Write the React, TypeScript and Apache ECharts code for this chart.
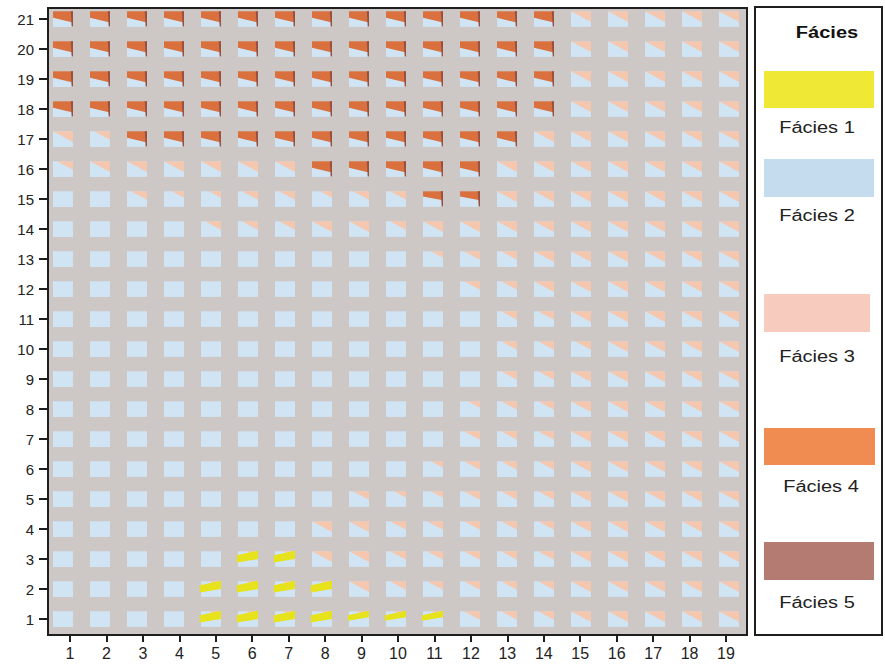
import React, { useEffect, useRef } from "react";
import * as echarts from "echarts";

// Grid of sampled cells: 19 columns x 21 rows
const columnTicks = [1, 2, 3, 4, 5, 6, 7, 8, 9, 10, 11, 12, 13, 14, 15, 16, 17, 18, 19];
const rowTicks = [1, 2, 3, 4, 5, 6, 7, 8, 9, 10, 11, 12, 13, 14, 15, 16, 17, 18, 19, 20, 21];

const faciesNames = ["Fácies 1", "Fácies 2", "Fácies 3", "Fácies 4", "Fácies 5"];

// One string per row (row 21 first), one digit per column (1..19), share in tenths.
const facies1Rows = [
  "0000000000000000000", // 21
  "0000000000000000000", // 20
  "0000000000000000000", // 19
  "0000000000000000000", // 18
  "0000000000000000000", // 17
  "0000000000000000000", // 16
  "0000000000000000000", // 15
  "0000000000000000000", // 14
  "0000000000000000000", // 13
  "0000000000000000000", // 12
  "0000000000000000000", // 11
  "0000000000000000000", // 10
  "0000000000000000000", // 9
  "0000000000000000000", // 8
  "0000000000000000000", // 7
  "0000000000000000000", // 6
  "0000000000000000000", // 5
  "0000000000000000000", // 4
  "0000044000000000000", // 3
  "0000444400000000000", // 2
  "0000444433300000000", // 1
];

const facies3Rows = [
  "0000000000000066666", // 21
  "0000000000000066666", // 20
  "0000000000000066666", // 19
  "0000000000000066666", // 18
  "5400000000000666666", // 17
  "4555555000006666666", // 16
  "0043344344005555555", // 15
  "0000444554555555555", // 14
  "0000000000344555555", // 13
  "0000000000044555555", // 12
  "0000000000004455555", // 11
  "0000000000004445555", // 10
  "0000000000004455555", // 9
  "0000000000034455555", // 8
  "0000000000044455555", // 7
  "0000000000344455555", // 6
  "0000000043344455555", // 5
  "0000000554444455555", // 4
  "0000033554444455555", // 3
  "0000333354444455555", // 2
  "0000333333344455555", // 1
];

const facies4Rows = [
  "5555555555555500000", // 21
  "5555555555555500000", // 20
  "5555555555555500000", // 19
  "5555555555555500000", // 18
  "0055555555555000000", // 17
  "0000000555550000000", // 16
  "0000000000440000000", // 15
  "0000000000000000000", // 14
  "0000000000000000000", // 13
  "0000000000000000000", // 12
  "0000000000000000000", // 11
  "0000000000000000000", // 10
  "0000000000000000000", // 9
  "0000000000000000000", // 8
  "0000000000000000000", // 7
  "0000000000000000000", // 6
  "0000000000000000000", // 5
  "0000000000000000000", // 4
  "0000000000000000000", // 3
  "0000000000000000000", // 2
  "0000000000000000000", // 1
];

const COLORS = {
  plotBg: "#cdc8c6",
  cellBlue: "#d0e4f4",
  cellPink: "#f4c7ae",
  cellOrange: "#d9703d",
  cellEdge: "#9a5040",
  cellYellow: "#e6e31c",
  legend: ["#efe834", "#c5dcee", "#f7cbbd", "#f08b51", "#b47b73"],
  ink: "#1e1e1e",
};

const FONT = "'Liberation Sans', Arial, Helvetica, sans-serif";

function buildCells() {
  const cells: number[][] = [];
  const nRows = rowTicks.length;
  for (let i = 0; i < nRows; i++) {
    const row = rowTicks[nRows - 1 - i];
    for (let c = 0; c < columnTicks.length; c++) {
      cells.push([
        columnTicks[c],
        row,
        Number(facies1Rows[i][c]),
        Number(facies3Rows[i][c]),
        Number(facies4Rows[i][c]),
      ]);
    }
  }
  return cells;
}

function renderCell(params: any, api: any) {
  const col = api.value(0);
  const row = api.value(1);
  const f1 = api.value(2);
  const f3 = api.value(3);
  const f4 = api.value(4);
  const center = api.coord([col, row]);
  const unit = api.size([1, 1]);
  const w = unit[0] * 0.54;
  const h = unit[1] * 0.52;
  const x0 = center[0] - w / 2;
  const y0 = center[1] - h / 2;
  const x1 = x0 + w;

  const children: any[] = [
    {
      type: "rect",
      shape: { x: x0, y: y0, width: w, height: h },
      style: { fill: COLORS.cellBlue },
    },
  ];

  if (f3 > 0) {
    const s = Math.min(1, f3 / 5);
    children.push({
      type: "polygon",
      shape: {
        points: [
          [x1 - w * 1.0 * s, y0],
          [x1, y0],
          [x1, y0 + h * 0.68 * s],
        ],
      },
      style: { fill: COLORS.cellPink },
    });
  }

  if (f4 > 0) {
    const s = f4 / 5;
    children.push({
      type: "polygon",
      shape: {
        points: [
          [x0, y0],
          [x1, y0],
          [x1, y0 + h * 0.72 * s],
          [x0, y0 + h * 0.42 * s],
        ],
      },
      style: { fill: COLORS.cellOrange },
    });
    children.push({
      type: "polygon",
      shape: {
        points: [
          [x1 - 2.2, y0],
          [x1, y0],
          [x1, y0 + h * 0.98],
          [x1 - 1.3, y0 + h * 0.98],
        ],
      },
      style: { fill: COLORS.cellEdge },
    });
  }

  if (f1 > 0) {
    const s = f1 / 4;
    children.push({
      type: "polygon",
      shape: {
        points: [
          [x0 - w * 0.06, y0 + h * 0.26],
          [x1, y0 - h * 0.04],
          [x1, y0 + h * 0.5 * s],
          [x0 - w * 0.06, y0 + h * (0.26 + 0.46 * s)],
        ],
      },
      style: { fill: COLORS.cellYellow },
    });
  }

  return { type: "group", children };
}

function legendGraphic() {
  // swatch top, swatch height, swatch width, label centre x, label centre y
  const slots = [
    [71, 37, 110, 817, 128],
    [159, 38, 110, 817, 216],
    [294, 38, 106, 817, 357],
    [428, 37, 111, 821, 487],
    [542, 38, 110, 817, 603],
  ];
  const els: any[] = [
    {
      type: "rect",
      shape: { x: 755, y: 7, width: 127, height: 628 },
      style: { fill: "#ffffff", stroke: COLORS.ink, lineWidth: 2 },
    },
    {
      type: "text",
      x: 827,
      y: 33,
      scaleX: 1.25,
      style: {
        text: "Fácies",
        fontSize: 16,
        fontWeight: "bold",
        fontFamily: FONT,
        fill: "#111",
        align: "center",
        verticalAlign: "middle",
        textAlign: "center",
        textVerticalAlign: "middle",
      },
    },
  ];
  faciesNames.forEach((name, i) => {
    const [top, hgt, wid, lx, ly] = slots[i];
    els.push({
      type: "rect",
      shape: { x: 764, y: top, width: wid, height: hgt },
      style: { fill: COLORS.legend[i] },
    });
    els.push({
      type: "text",
      x: lx,
      y: ly,
      scaleX: 1.25,
      style: {
        text: name,
        fontSize: 16,
        fontFamily: FONT,
        fill: "#222",
        align: "center",
        verticalAlign: "middle",
        textAlign: "center",
        textVerticalAlign: "middle",
      },
    });
  });
  return els;
}

export default function App() {
  const ref = useRef<HTMLDivElement>(null);

  useEffect(() => {
    if (!ref.current) return;
    const chart = echarts.init(ref.current, undefined, { renderer: "svg" });

    const option: any = {
      animation: false,
      grid: {
        left: 48,
        top: 8,
        width: 699,
        height: 627,
        show: true,
        backgroundColor: COLORS.plotBg,
        borderColor: COLORS.ink,
        borderWidth: 2,
      },
      xAxis: [
        {
          type: "value",
          min: 0.396,
          max: 19.576,
          position: "bottom",
          axisLine: { show: false },
          splitLine: { show: false },
          axisTick: {
            customValues: columnTicks,
            length: 7,
            lineStyle: { color: COLORS.ink, width: 2 },
          },
          axisLabel: {
            customValues: columnTicks,
            margin: 10,
            fontSize: 16,
            color: "#222",
            fontFamily: FONT,
          },
        },
        {
          // glyph columns sit on their own, slightly wider spacing
          type: "value",
          min: 0.595,
          max: 19.486,
          show: false,
        },
      ],
      yAxis: {
        type: "value",
        min: 0.47,
        max: 21.37,
        axisLine: { show: false },
        splitLine: { show: false },
        axisTick: {
          customValues: rowTicks,
          length: 9,
          lineStyle: { color: COLORS.ink, width: 2 },
        },
        axisLabel: {
          customValues: rowTicks,
          margin: 14,
          fontSize: 15,
          color: "#222",
          fontFamily: FONT,
        },
      },
      series: [
        {
          type: "custom",
          name: "Fácies",
          xAxisIndex: 1,
          yAxisIndex: 0,
          silent: true,
          renderItem: renderCell,
          data: buildCells(),
        },
      ],
      graphic: legendGraphic(),
    };

    chart.setOption(option);
    return () => chart.dispose();
  }, []);

  return (
    <div
      ref={ref}
      style={{ position: "fixed", left: 0, top: 0, width: 885, height: 664, background: "#ffffff" }}
    />
  );
}
